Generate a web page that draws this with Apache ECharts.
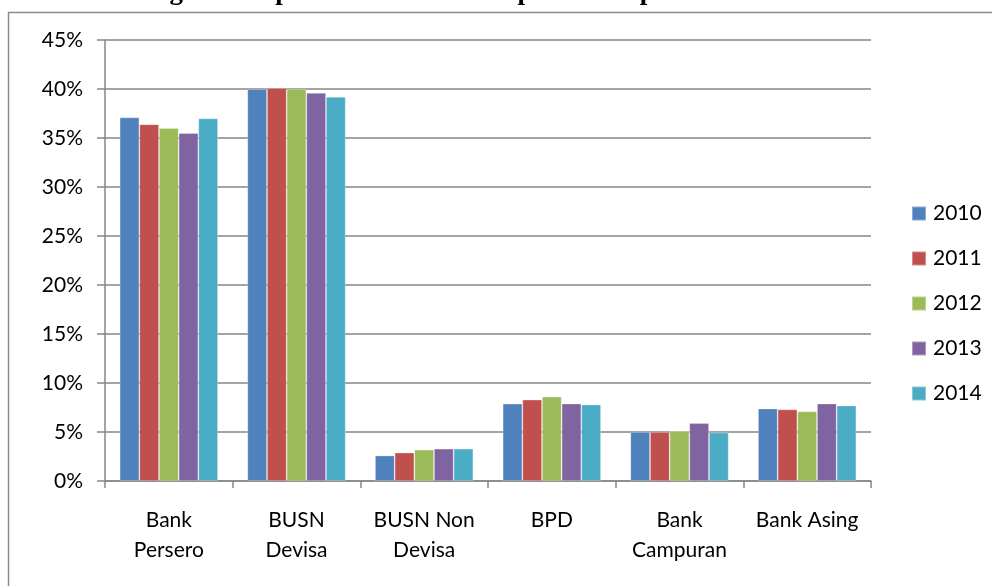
<!DOCTYPE html>
<html>
<head>
<meta charset="utf-8">
<script src="https://cdn.jsdelivr.net/npm/echarts@6/dist/echarts.min.js"></script>
<style>html,body{margin:0;padding:0;background:#fff;}#c{width:992px;height:586px;}</style>
</head>
<body>
<div id="c"></div>
<script>
var categories = ['Bank\nPersero', 'BUSN\nDevisa', 'BUSN Non\nDevisa', 'BPD', 'Bank\nCampuran', 'Bank Asing'];
var seriesNames = ['2010', '2011', '2012', '2013', '2014'];
var v2010 = [37.1, 40.0, 2.6, 7.9, 5.0, 7.4];
var v2011 = [36.4, 40.1, 2.9, 8.3, 5.0, 7.3];
var v2012 = [36.0, 40.0, 3.2, 8.6, 5.1, 7.1];
var v2013 = [35.5, 39.6, 3.3, 7.9, 5.9, 7.9];
var v2014 = [37.0, 39.2, 3.3, 7.8, 4.95, 7.7];
var yTicks = [0, 5, 10, 15, 20, 25, 30, 35, 40, 45];
var titleText = 'Perkembangan Komposisi Sebaran Dana per Kelompok Bank Tahun 2010-2014';

var colors = ['#4F81BD', '#C0504D', '#9BBB59', '#8064A2', '#4BACC6'];
var values = [v2010, v2011, v2012, v2013, v2014];
var font = 'Lato, "Open Sans", sans-serif';

var chart = echarts.init(document.getElementById('c'));
chart.setOption({
  animation: false,
  color: colors,
  graphic: [
    { type: 'rect', shape: { x: 8.5, y: 12.5, width: 1100, height: 700 }, style: { fill: 'none', stroke: '#8a8a8a', lineWidth: 1.5 }, silent: true },
    { type: 'text', left: 'center', y: 6, style: { text: titleText, font: 'bold 27px "Liberation Serif", serif', fill: '#000', verticalAlign: 'bottom' }, silent: true }
  ],
  grid: { left: 105, top: 40, right: 121, bottom: 105, containLabel: false },
  legend: {
    orient: 'vertical',
    left: 906,
    top: 198,
    itemWidth: 14,
    itemHeight: 14,
    itemGap: 24,
    icon: 'rect',
    textStyle: { fontFamily: font, fontSize: 21, color: '#000', padding: [0, 0, 0, 2] },
    data: seriesNames
  },
  xAxis: {
    type: 'category',
    data: categories,
    axisLine: { lineStyle: { color: '#868686', width: 1.5 } },
    axisTick: { show: true, length: 7, lineStyle: { color: '#868686', width: 1.5 } },
    axisLabel: { fontFamily: font, fontSize: 21, color: '#000', margin: 24, lineHeight: 30, interval: 0 }
  },
  yAxis: {
    type: 'value',
    min: 0,
    max: 45,
    interval: 5,
    axisLine: { show: true, lineStyle: { color: '#868686', width: 1.5 } },
    axisTick: { show: true, length: 8, lineStyle: { color: '#868686', width: 1.5 } },
    splitLine: { lineStyle: { color: '#868686', width: 1.5 } },
    axisLabel: {
      fontFamily: font, fontSize: 21, color: '#000', margin: 22,
      formatter: function (v) { return yTicks.indexOf(v) >= 0 ? v + '%' : ''; }
    }
  },
  series: seriesNames.map(function (n, i) {
    return {
      name: n,
      type: 'bar',
      data: values[i],
      barGap: '0%',
      barCategoryGap: '23%',
      itemStyle: { borderColor: 'rgba(255,255,255,0.35)', borderWidth: 0.8 }
    };
  })
});
</script>
</body>
</html>
